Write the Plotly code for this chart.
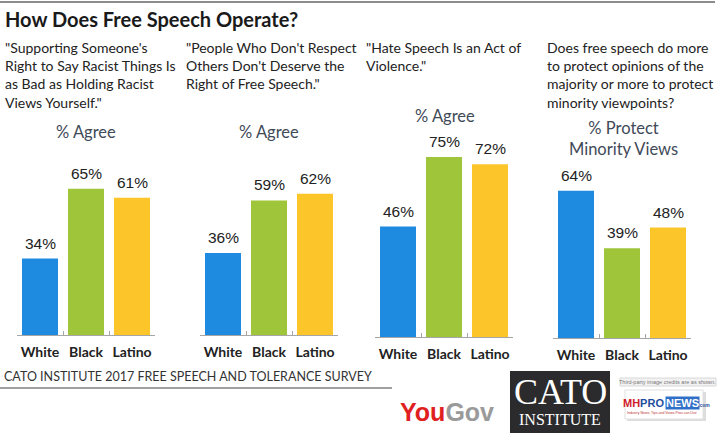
import plotly.graph_objects as go

# ---------------- data ----------------
categories = ["White", "Black", "Latino"]
panel_titles = [
    "\"Supporting Someone's<br>Right to Say Racist Things Is<br>as Bad as Holding Racist<br>Views Yourself.\"",
    "\"People Who Don't Respect<br>Others Don't Deserve the<br>Right of Free Speech.\"",
    "\"Hate Speech Is an Act of<br>Violence.\"",
    "Does free speech do more<br>to protect opinions of the<br>majority or more to protect<br>minority viewpoints?",
]
panel_subtitles = ["% Agree", "% Agree", "% Agree", "% Protect<br>Minority Views"]
values_racist_views = [34, 65, 61]
values_no_respect = [36, 59, 62]
values_hate_violence = [46, 75, 72]
values_protect_minority = [64, 39, 48]
main_title = "How Does Free Speech Operate?"
source_text = "CATO INSTITUTE 2017 FREE SPEECH AND TOLERANCE SURVEY"

series = [values_racist_views, values_no_respect, values_hate_violence, values_protect_minority]
bar_colors = ["#1F8BE0", "#9FC63B", "#FCC52A"]

W, H = 720, 443
def px(x):
    return x / W
def py(y):
    return 1 - y / H

# layout geometry (pixels)
x_dom = [(17, 155), (200, 338), (375, 513), (553, 691)]
y_dom = [(335, 110), (335, 107), (337, 97), (338, 108)]
title_pos = [(3, 37), (184, 37), (364, 37), (545, 37)]
sub_pos = [(86, 132), (269, 132), (445, 116), (623, 138)]

fig = go.Figure()
annotations = []
for i, vals in enumerate(series):
    xa = "x" if i == 0 else f"x{i+1}"
    ya = "y" if i == 0 else f"y{i+1}"
    fig.add_trace(go.Bar(
        x=categories, y=vals, marker=dict(color=bar_colors, line=dict(width=0)),
        xaxis=xa, yaxis=ya, showlegend=False, hoverinfo="skip",
    ))
    for c, v in zip(categories, vals):
        annotations.append(dict(
            x=c, y=v, xref=xa, yref=ya, text=f"{v}%", showarrow=False,
            yanchor="bottom", yshift=5,
            font=dict(family="Liberation Sans, Arial", size=15.5, color="#222222"),
        ))
    layout_x = dict(
        domain=[px(x_dom[i][0]), px(x_dom[i][1])], anchor=ya,
        showline=True, linecolor="#A6A6A6", linewidth=1,
        ticks="inside", tickson="boundaries", ticklen=4, tickcolor="#A6A6A6",
        tickangle=0, ticklabelstandoff=4,
        tickfont=dict(family="Lato", size=14, color="#222222", weight="bold"),
        showgrid=False, zeroline=False, automargin=False, fixedrange=True,
    )
    layout_y = dict(
        domain=[py(y_dom[i][0]), py(y_dom[i][1])], anchor=xa, range=[0, 100],
        visible=False, showgrid=False, zeroline=False, automargin=False, fixedrange=True,
    )
    fig.layout[("xaxis" if i == 0 else f"xaxis{i+1}")] = layout_x
    fig.layout[("yaxis" if i == 0 else f"yaxis{i+1}")] = layout_y

    annotations.append(dict(
        x=px(title_pos[i][0]), y=py(title_pos[i][1]), xref="paper", yref="paper",
        text=panel_titles[i], showarrow=False, xanchor="left", yanchor="top", align="left",
        font=dict(family="Lato", size=14, color="#222222"),
    ))
    annotations.append(dict(
        x=px(sub_pos[i][0]), y=py(sub_pos[i][1]), xref="paper", yref="paper",
        text=panel_subtitles[i], showarrow=False, xanchor="center", yanchor="middle", align="center",
        font=dict(family="Lato", size=16.5, color="#3F4A58"),
    ))

# main title and source
annotations.append(dict(
    x=px(3), y=py(19), xref="paper", yref="paper", text=main_title, showarrow=False,
    xanchor="left", yanchor="middle", font=dict(family="Lato", size=20, color="#1a1a1a", weight="bold"),
))
annotations.append(dict(
    x=px(2), y=py(376), xref="paper", yref="paper", text=source_text, showarrow=False,
    xanchor="left", yanchor="middle", font=dict(family="Lato", size=12.5, color="#333333"),
))
# logos
annotations.append(dict(
    x=px(447), y=py(412), xref="paper", yref="paper",
    text="<span style='color:#E02020'>You</span><span style='color:#9A9A9A'>Gov</span>",
    showarrow=False, xanchor="center", yanchor="middle",
    font=dict(family="Liberation Sans, Arial", size=25, weight="bold"),
))
annotations.append(dict(
    x=px(560), y=py(392), xref="paper", yref="paper", text="CATO", showarrow=False,
    xanchor="center", yanchor="middle",
    font=dict(family="Liberation Serif", size=36, color="#FFFFFF"),
))
annotations.append(dict(
    x=px(560), y=py(419), xref="paper", yref="paper", text="INSTITUTE", showarrow=False,
    xanchor="center", yanchor="middle",
    font=dict(family="Liberation Serif", size=16, color="#FFFFFF"),
))
annotations.append(dict(
    x=px(667), y=py(382), xref="paper", yref="paper", text="Third-party image credits are as shown.",
    showarrow=False, xanchor="center", yanchor="middle",
    font=dict(family="Liberation Sans", size=5.5, color="#777777"),
))
annotations.append(dict(
    x=px(665), y=py(403), xref="paper", yref="paper",
    text="<span style='color:#D0202A'>MH</span><span style='color:#1F4E9C'>PRO</span>",
    showarrow=False, xanchor="right", yanchor="middle", borderpad=0,
    font=dict(family="Liberation Sans", size=11, weight="bold"),
))
annotations.append(dict(
    x=px(665), y=py(403), xref="paper", yref="paper", text="NEWS",
    showarrow=False, xanchor="left", yanchor="middle", bgcolor="#2F6FC8", borderpad=0,
    font=dict(family="Liberation Sans", size=11, weight="bold", color="#FFFFFF"),
))
annotations.append(dict(
    x=px(697), y=py(405), xref="paper", yref="paper", text=".com",
    showarrow=False, xanchor="left", yanchor="middle", borderpad=0,
    font=dict(family="Liberation Sans", size=5, weight="bold", color="#1F4E9C"),
))
annotations.append(dict(
    x=px(662), y=py(413), xref="paper", yref="paper", text="Industry News, Tips and Views Pros can Use",
    showarrow=False, xanchor="center", yanchor="middle",
    font=dict(family="Liberation Sans", size=3.5, color="#C03030"),
))

shapes = [
    dict(type="line", xref="paper", yref="paper", x0=0, x1=px(715), y0=py(2), y1=py(2),
         line=dict(color="#8C8C8C", width=2)),
    dict(type="line", xref="paper", yref="paper", x0=0, x1=px(392), y0=py(388), y1=py(388),
         line=dict(color="#A0A0A0", width=2)),
    dict(type="rect", xref="paper", yref="paper", x0=px(510), x1=px(610), y0=py(433), y1=py(371),
         fillcolor="#2B2B2D", line=dict(width=0), layer="below"),
    dict(type="rect", xref="paper", yref="paper", x0=px(620), x1=px(716), y0=py(386), y1=py(378),
         fillcolor="#F2F2F2", line=dict(color="#D8D8D8", width=1), layer="below"),
    dict(type="rect", xref="paper", yref="paper", x0=px(627), x1=px(706), y0=py(421), y1=py(392),
         fillcolor="#DDDDDD", line=dict(width=0), layer="below"),
    dict(type="rect", xref="paper", yref="paper", x0=px(625), x1=px(703), y0=py(419), y1=py(390),
         fillcolor="#FFFFFF", line=dict(color="#E0E0E0", width=1), layer="below"),
]

fig.update_layout(
    template="none",
    width=W, height=H,
    margin=dict(l=0, r=0, t=0, b=0, autoexpand=False),
    paper_bgcolor="#FFFFFF", plot_bgcolor="rgba(0,0,0,0)",
    bargap=0.217,
    annotations=annotations,
    shapes=shapes,
    showlegend=False,
)

fig.write_html(
    "out.html",
    config={"displayModeBar": False},
    post_script="document.body.style.margin='0';document.body.style.padding='0';document.body.style.overflow='hidden';",
)
